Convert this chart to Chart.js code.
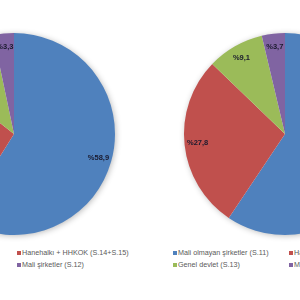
<!DOCTYPE html>
<html>
<head>
<meta charset="utf-8">
<script src="https://cdn.jsdelivr.net/npm/chart.js@4"></script>
<style>
  html, body { margin: 0; padding: 0; background: #fff; }
  #wrap { position: relative; width: 300px; height: 300px; overflow: hidden; }
  canvas { position: absolute; }
  .legend { position: absolute; display: grid; grid-template-columns: 116px 116px; row-gap: 3px;
    font: 7.2px "Liberation Sans", Arial, sans-serif; color: #595959; white-space: nowrap; line-height: 9px; }
  .legend span.box { display: inline-block; width: 4px; height: 4px; margin-right: 1px; vertical-align: 0px; }
</style>
</head>
<body>
<div id="wrap">
  <canvas id="leftPie" width="222" height="222" style="left:-97px;top:23px"></canvas>
  <canvas id="rightPie" width="222" height="222" style="left:174px;top:23px"></canvas>
  <div class="legend" id="leftLegend" style="left:-99px;top:248px"></div>
  <div class="legend" id="rightLegend" style="left:173px;top:248px"></div>
</div>
<script>
const sectors = ["Mali olmayan şirketler (S.11)", "Hanehalkı + HHKOK (S.14+S.15)", "Genel devlet (S.13)", "Mali şirketler (S.12)"];
const leftValues = [58.9, 26.7, 11.1, 3.3];
const rightValues = [59.4, 27.8, 9.1, 3.7];
const sliceColors = ["#4F81BD", "#C0504D", "#9BBB59", "#8064A2"];

function pct(v) {
  return "%" + v.toFixed(1).replace(".", ",");
}

// soft shadow under the whole pie, like the excel original
const pieShadow = {
  id: "pieShadow",
  beforeDatasetsDraw(chart) {
    const arc = chart.getDatasetMeta(0).data[0];
    if (!arc) return;
    const ctx = chart.ctx;
    ctx.save();
    ctx.shadowColor = "rgba(0,0,0,0.3)";
    ctx.shadowBlur = 6;
    ctx.shadowOffsetX = 1;
    ctx.shadowOffsetY = 1;
    ctx.fillStyle = "#ffffff";
    ctx.beginPath();
    ctx.arc(arc.x, arc.y, arc.outerRadius - 0.5, 0, Math.PI * 2);
    ctx.fill();
    ctx.restore();
  }
};

const sliceLabels = {
  id: "sliceLabels",
  afterDatasetsDraw(chart) {
    const ctx = chart.ctx;
    const values = chart.data.datasets[0].data;
    ctx.save();
    ctx.font = "bold 7.5px 'Liberation Sans', Arial, sans-serif";
    ctx.fillStyle = "#1a1a2e";
    ctx.textAlign = "center";
    ctx.textBaseline = "middle";
    chart.getDatasetMeta(0).data.forEach((arc, i) => {
      const mid = (arc.startAngle + arc.endAngle) / 2;
      const r = arc.outerRadius * 0.87;
      ctx.fillText(pct(values[i]), arc.x + Math.cos(mid) * r, arc.y + Math.sin(mid) * r);
    });
    ctx.restore();
  }
};

function makePie(id, values) {
  return new Chart(document.getElementById(id), {
    type: "pie",
    data: {
      labels: sectors,
      datasets: [{ data: values, backgroundColor: sliceColors, borderWidth: 0 }]
    },
    options: {
      responsive: false,
      animation: false,
      devicePixelRatio: 1,
      layout: { padding: 10 },
      plugins: { legend: { display: false }, tooltip: { enabled: false } }
    },
    plugins: [pieShadow, sliceLabels]
  });
}

function makeLegend(id) {
  const el = document.getElementById(id);
  sectors.forEach((name, i) => {
    const item = document.createElement("div");
    item.innerHTML = '<span class="box" style="background:' + sliceColors[i] + '"></span>' + name;
    el.appendChild(item);
  });
}

makePie("leftPie", leftValues);
makePie("rightPie", rightValues);
makeLegend("leftLegend");
makeLegend("rightLegend");
</script>
</body>
</html>
